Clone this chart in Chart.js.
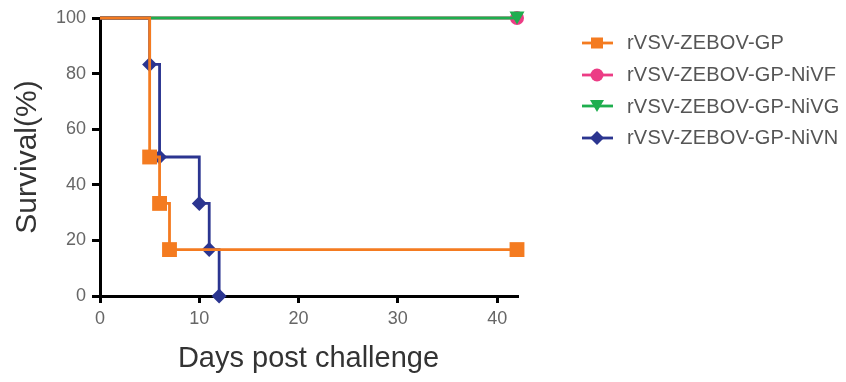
<!DOCTYPE html>
<html>
<head>
<meta charset="utf-8">
<script src="https://cdn.jsdelivr.net/npm/chart.js"></script>
<style>
  body { margin: 0; background: #fff; }
  #wrap { position: relative; width: 846px; height: 382px; }
  #legend { position: absolute; left: 580px; top: 27px; font-family: "Liberation Sans", Arial, sans-serif; font-size: 20px; color: #555; letter-spacing: 0.2px; }
  .item { height: 31.7px; display: flex; align-items: center; white-space: nowrap; }
  .item svg { margin-right: 13px; }
</style>
</head>
<body>
<div id="wrap">
  <canvas id="km" width="846" height="382"></canvas>
  <div id="legend"></div>
</div>
<script>
// survival data (days, % alive)
const groups = ['rVSV-ZEBOV-GP', 'rVSV-ZEBOV-GP-NiVF', 'rVSV-ZEBOV-GP-NiVG', 'rVSV-ZEBOV-GP-NiVN'];
const days_GP   = [0, 5, 6, 7, 42];
const surv_GP   = [100, 50, 33.3, 16.7, 16.7];
const days_NiVF = [0, 42];
const surv_NiVF = [100, 100];
const days_NiVG = [0, 42];
const surv_NiVG = [100, 100];
const days_NiVN = [0, 5, 6, 10, 11, 12];
const surv_NiVN = [100, 83.3, 50, 33.3, 16.7, 0];
const xTickValues = [0, 10, 20, 30, 40];
const yTickValues = [0, 20, 40, 60, 80, 100];

const colors = ['#f47b20', '#ec3c85', '#1eae4e', '#2b3590'];

// downward triangle centred in its box (prism style)
const tri = document.createElement('canvas');
tri.width = 16; tri.height = 14;
const tc = tri.getContext('2d');
tc.fillStyle = colors[2];
tc.beginPath(); tc.moveTo(0.5, 0.5); tc.lineTo(15.5, 0.5); tc.lineTo(8, 13.5); tc.closePath(); tc.fill();

const shapes = ['rect', 'circle', tri, 'rectRot'];
const radii  = [10.5, 7, 8, 7.5];
const drawOrder = [0, 3, 2, 1];   // orange on top, pink at the bottom

const xs = [days_GP, days_NiVF, days_NiVG, days_NiVN];
const ys = [surv_GP, surv_NiVF, surv_NiVG, surv_NiVN];

const datasets = groups.map((g, i) => ({
  label: g,
  data: xs[i].map((d, j) => ({ x: d, y: ys[i][j] })),
  borderColor: colors[i],
  backgroundColor: colors[i],
  borderWidth: 2.8,
  stepped: 'before',
  pointStyle: shapes[i],
  pointRadius: ctx => ctx.dataIndex === 0 ? 0 : radii[i],
  pointHoverRadius: ctx => ctx.dataIndex === 0 ? 0 : radii[i],
  pointBorderWidth: 0,
  clip: false,
  order: drawOrder[i]
}));

const font = 'Liberation Sans, Arial, sans-serif';

new Chart(document.getElementById('km'), {
  type: 'line',
  data: { datasets: datasets },
  options: {
    responsive: false,
    animation: false,
    layout: { padding: { top: 18, right: 329, bottom: 0, left: 0 } },
    plugins: { legend: { display: false }, tooltip: { enabled: false } },
    scales: {
      x: {
        type: 'linear', min: 0, max: 42,
        afterBuildTicks: s => { s.ticks = xTickValues.map(v => ({ value: v })); },
        afterFit: s => { s.height = 86; },
        grid: { drawOnChartArea: false, color: '#000', lineWidth: 3, tickLength: 7 },
        border: { color: '#000', width: 3 },
        ticks: { color: '#666', font: { family: font, size: 18 }, padding: 5 },
        title: { display: true, text: 'Days post challenge', color: '#333',
                 font: { family: font, size: 29 }, padding: { top: 0, bottom: 6 } }
      },
      y: {
        min: 0, max: 100,
        afterBuildTicks: s => { s.ticks = yTickValues.map(v => ({ value: v })); },
        afterFit: s => { s.width = 100; },
        grid: { drawOnChartArea: false, color: '#000', lineWidth: 3, tickLength: 8 },
        border: { color: '#000', width: 3 },
        ticks: { color: '#666', font: { family: font, size: 18 }, padding: 6 },
        title: { display: true, text: 'Survival(%)', color: '#333',
                 font: { family: font, size: 30 }, padding: { top: 10, bottom: 0 } }
      }
    }
  }
});

// legend: line with marker, then label
function icon(i) {
  const c = colors[i];
  let m = '';
  if (i === 0) m = `<rect x="11" y="4.5" width="12" height="11" fill="${c}"/>`;
  if (i === 1) m = `<circle cx="17" cy="10" r="6.5" fill="${c}"/>`;
  if (i === 2) m = `<polygon points="10,4 24,4 17,16" fill="${c}"/>`;
  if (i === 3) m = `<polygon points="17,3 24,10 17,17 10,10" fill="${c}"/>`;
  return `<svg width="34" height="20"><line x1="2" y1="10" x2="33" y2="10" stroke="${c}" stroke-width="2.8"/>${m}</svg>`;
}
document.getElementById('legend').innerHTML = groups.map((g, i) =>
  `<div class="item">${icon(i)}<span>${g}</span></div>`).join('');
</script>
</body>
</html>
